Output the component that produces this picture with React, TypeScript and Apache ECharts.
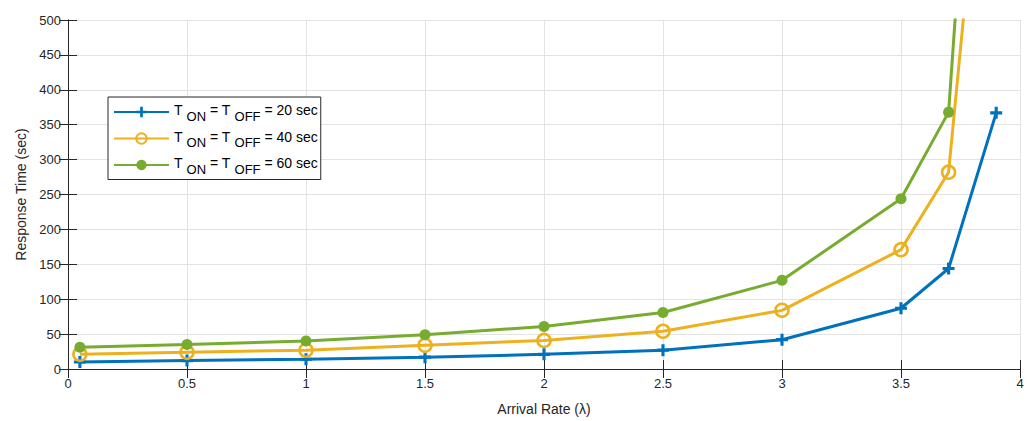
import React, { useEffect, useRef } from "react";
import * as echarts from "echarts";

const xBlue = [0.05, 0.5, 1, 1.5, 2, 2.5, 3, 3.5, 3.7, 3.9];
const yBlue = [10, 12, 14, 17, 21, 27, 42, 87, 144, 367];
const xOrange = [0.05, 0.5, 1, 1.5, 2, 2.5, 3, 3.5, 3.7, 3.9];
const yOrange = [21, 24, 27, 34, 41, 54, 84, 171, 282, 990];
const xGreen = [0.05, 0.5, 1, 1.5, 2, 2.5, 3, 3.5, 3.7, 3.9];
const yGreen = [31, 35, 40, 49, 61, 81, 127, 244, 368, 1340];
const seriesNames = ["20", "40", "60"];
const xTicks = { min: 0, max: 4, interval: 0.5 };
const yTicks = { min: 0, max: 500, interval: 50 };

const BLUE = "#0072BD";
const ORANGE = "#EDB120";
const GREEN = "#77AC30";
const AX = "#262626";
const FONT = "Liberation Sans, Arial, sans-serif";
const PLUS =
  "path://M-1.3,-5 L1.3,-5 L1.3,-1.3 L5,-1.3 L5,1.3 L1.3,1.3 L1.3,5 L-1.3,5 L-1.3,1.3 L-5,1.3 L-5,-1.3 L-1.3,-1.3Z";

const zip = (xs: number[], ys: number[]) => xs.map((x, i) => [x, ys[i]]);

export default function App() {
  const ref = useRef<HTMLDivElement>(null);
  useEffect(() => {
    if (!ref.current) return;
    const chart = echarts.init(ref.current, null, { renderer: "svg" });
    const axisCommon = {
      axisLine: { show: true, lineStyle: { color: AX, width: 1 } },
      axisTick: { show: true, inside: true, length: 9, lineStyle: { color: AX } },
    };
    chart.setOption({
      animation: false,
      backgroundColor: "#fff",
      textStyle: { fontFamily: FONT },
      grid: { left: 68, right: 10, top: 20, bottom: 50, containLabel: false },
      legend: {
        show: true,
        left: 108,
        top: 97,
        orient: "vertical",
        backgroundColor: "#fff",
        borderColor: AX,
        borderWidth: 1,
        borderRadius: 0,
        padding: [6, 3, 4, 5],
        itemWidth: 55,
        itemHeight: 13,
        itemGap: 7,
        formatter: (name: string) =>
          `{n|T}{s|ON}{n| = T}{s|OFF}{n| = ${name} sec}`,
        textStyle: {
          color: "#000",
          fontFamily: FONT,
          fontSize: 14,
          rich: {
            n: { fontSize: 14, fontFamily: FONT, color: "#000", padding: [0, 0, 4, 0] },
            s: { fontSize: 13, fontFamily: FONT, color: "#000", padding: [8, 0, 0, 4] },
          },
        },
        data: seriesNames,
      },
      xAxis: [
        {
          type: "value",
          ...xTicks,
          position: "bottom",
          ...axisCommon,
          axisLabel: {
            color: AX,
            fontSize: 13,
            margin: 8,
            formatter: (v: number) => String(v),
          },
          splitLine: { show: true, lineStyle: { color: "#e3e3e3", width: 1 } },
          name: "Arrival Rate (λ)",
          nameLocation: "middle",
          nameGap: 33,
          nameTextStyle: { color: AX, fontSize: 14 },
        },
        {
          type: "value",
          ...xTicks,
          position: "top",
          ...axisCommon,
          axisLabel: { show: false },
          splitLine: { show: false },
        },
      ],
      yAxis: [
        {
          type: "value",
          ...yTicks,
          position: "left",
          ...axisCommon,
          axisLabel: { color: AX, fontSize: 13, margin: 7 },
          splitLine: { show: true, lineStyle: { color: "#e3e3e3", width: 1 } },
          name: "Response Time (sec)",
          nameLocation: "middle",
          nameGap: 40,
          nameTextStyle: { color: AX, fontSize: 14 },
        },
        {
          type: "value",
          ...yTicks,
          position: "right",
          ...axisCommon,
          axisLabel: { show: false },
          splitLine: { show: false },
        },
      ],
      series: [
        {
          name: seriesNames[0],
          type: "line",
          data: zip(xBlue, yBlue),
          symbol: PLUS,
          symbolSize: 12,
          lineStyle: { color: BLUE, width: 3 },
          itemStyle: { color: BLUE },
          clip: true,
        },
        {
          name: seriesNames[1],
          type: "line",
          data: zip(xOrange, yOrange),
          symbol: "circle",
          symbolSize: 13,
          lineStyle: { color: ORANGE, width: 3 },
          itemStyle: { color: "rgba(255,255,255,0)", borderColor: ORANGE, borderWidth: 2.6 },
          clip: true,
        },
        {
          name: seriesNames[2],
          type: "line",
          data: zip(xGreen, yGreen),
          symbol: "circle",
          symbolSize: 11,
          lineStyle: { color: GREEN, width: 3 },
          itemStyle: { color: GREEN },
          clip: true,
        },
      ],
    });
    return () => chart.dispose();
  }, []);
  return <div ref={ref} style={{ width: 1030, height: 421, position: "absolute", left: 0, top: 0 }} />;
}
